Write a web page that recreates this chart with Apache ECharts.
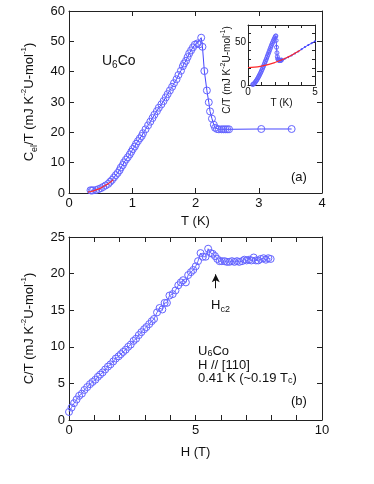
<!DOCTYPE html>
<html>
<head>
<meta charset="utf-8">
<script src="https://cdn.jsdelivr.net/npm/echarts@6/dist/echarts.min.js"></script>
<style>
html,body{margin:0;padding:0;background:#fff;}
#c{width:374px;height:484px;}
</style>
</head>
<body>
<div id="c"></div>
<script>
// ---- Panel (a): electronic specific heat C_el/T vs T ----
const tempA = [0.34,0.36,0.38,0.43,0.47,0.505,0.54,0.58,0.62,0.65,0.68,0.71,0.74,0.77,0.80,0.82,0.85,0.87,0.90,0.93,0.96,0.985,1.01,1.04,1.06,1.09,1.12,1.15,1.17,1.21,1.25,1.285,1.32,1.35,1.39,1.42,1.46,1.495,1.53,1.56,1.595,1.63,1.66,1.70,1.73,1.77,1.80,1.82,1.85,1.875,1.90,1.93,1.96,1.99,2.03,2.06,2.09,2.11,2.14,2.18,2.21,2.23,2.26,2.29,2.31,2.34,2.37,2.41,2.44,2.47,2.50,2.53,3.04,3.52];
const celA = [0.9,0.8,0.9,1.0,1.3,1.6,2.0,2.5,3.0,3.7,4.3,5.1,5.9,6.6,7.5,8.4,9.2,10.1,11.0,11.8,12.7,13.6,14.5,15.3,16.2,17.1,18.0,18.8,19.7,21.0,22.3,23.5,24.7,25.8,27.0,28.1,29.2,30.3,31.5,32.6,33.8,35.0,36.2,37.5,38.9,40.3,41.8,42.7,43.6,44.8,46.0,47.0,48.0,48.9,49.3,49.0,51.2,48.2,40.2,33.8,29.9,26.9,24.5,22.5,21.5,21.1,21.0,21.0,21.0,21.0,21.0,21.0,21.1,21.1];
const fitTA = [0.30,0.35,0.40,0.45,0.50,0.55,0.60,0.65,0.70];
const fitCA = [0.3,0.5,0.8,1.2,1.6,2.2,2.8,3.5,4.4];

// ---- Inset: total C/T vs T ----
const insetT = [0.35,0.40,0.45,0.50,0.55,0.60,0.65,0.70,0.75,0.80,0.85,0.90,0.95,1.00,1.05,1.10,1.15,1.20,1.25,1.30,1.35,1.40,1.45,1.50,1.55,1.60,1.65,1.70,1.75,1.80,1.85,1.90,1.95,2.00,2.05,2.08,2.10,2.13,2.16,2.19,2.22,2.26,2.30,2.34,2.38,2.42,2.46,2.50];
const insetC = [0.5,1.0,1.6,2.4,3.4,4.6,5.8,7.0,8.4,9.8,11.3,12.9,14.5,16.2,18.0,19.8,21.6,23.6,25.6,27.6,29.6,31.7,33.8,35.9,38.0,40.1,42.2,44.2,46.2,48.2,50.1,52.0,53.7,55.3,56.8,57.3,52.0,44.0,37.5,33.0,30.5,29.3,28.8,28.6,28.6,28.7,28.9,29.1];
const insetLineT = [2.50,2.75,3.00,3.25,3.50,3.75,4.00,4.25,4.50,4.75,5.00];
const insetLineC = [29.1,30.6,32.5,34.5,36.8,39.2,41.8,44.3,46.6,48.8,51.0];
const insetFitT = [0.0,0.5,1.0,1.5,2.0,2.5,3.0,3.5,3.9];
const insetFitC = [20.4,20.8,22.0,23.8,26.2,29.2,32.8,37.0,40.6];

// ---- Panel (b): C/T vs H at 0.41 K ----
const fieldB = [0,0.1,0.2,0.3,0.4,0.51,0.61,0.72,0.83,0.93,1.04,1.14,1.23,1.33,1.43,1.54,1.64,1.75,1.85,1.96,2.05,2.14,2.24,2.34,2.44,2.55,2.65,2.76,2.86,2.97,3.06,3.17,3.27,3.36,3.48,3.58,3.69,3.78,3.87,3.97,4.1,4.21,4.32,4.42,4.51,4.62,4.71,4.82,4.91,5.01,5.1,5.2,5.29,5.4,5.5,5.6,5.68,5.77,5.86,5.95,6.04,6.15,6.24,6.34,6.44,6.54,6.64,6.73,6.84,6.93,7.02,7.12,7.21,7.3,7.39,7.48,7.58,7.69,7.78,7.88,7.97];
const ctB = [1.1,1.7,2.3,2.8,3.3,3.6,4.1,4.5,4.9,5.2,5.5,5.9,6.2,6.5,6.9,7.3,7.6,8.0,8.4,8.7,9.0,9.3,9.6,10.0,10.3,10.8,11.1,11.6,12.0,12.4,12.7,13.1,13.5,13.8,14.7,15.3,15.1,16.0,16.0,17.0,17.2,17.7,18.4,18.8,19.1,18.8,19.8,20.2,20.5,21.0,21.7,22.8,22.3,22.3,23.4,22.8,22.7,22.4,22.0,21.7,21.7,21.7,21.6,21.6,21.7,21.6,21.7,21.6,21.7,21.9,21.8,21.9,21.8,22.2,21.8,21.8,22.0,22.1,21.9,22.1,22.0];
const hc2Arrow = [5.8, 18.0, 19.9];

// tick label lists
const ticksA_x = [0,1,2,3,4];
const ticksA_y = [0,10,20,30,40,50,60];
const ticksB_x = [0,5,10];
const ticksB_y = [0,5,10,15,20,25];
const ticksIn_x = [0,5];
const ticksIn_y = [0,50];

const FONT = 'Liberation Sans, Arial, Helvetica, sans-serif';
const BLUE_M = '#6464ff';
const BLUE_L = '#4646ff';
const RED = '#ff2a2a';

const pair = (xs, ys) => xs.map((x, i) => [x, ys[i]]);

function mkAxis(o) {
  const labels = o.labels;
  return {
    type: 'value',
    gridIndex: o.grid,
    min: o.min, max: o.max, interval: o.interval,
    position: o.position,
    axisLine: {show: true, onZero: false, lineStyle: {color: '#222', width: 1}},
    axisTick: {show: true, inside: true, length: o.tickLen || 5, lineStyle: {color: '#222', width: 1}},
    axisLabel: {
      show: !!labels,
      color: '#111',
      fontFamily: FONT,
      fontSize: o.fontSize || 13,
      margin: o.margin || 4,
      formatter: function (v) {
        if (!labels) return '';
        const r = Math.round(v * 1000) / 1000;
        return labels.indexOf(r) >= 0 ? String(r) : '';
      }
    },
    splitLine: {show: false},
    name: o.name || '',
    nameLocation: 'middle',
    nameGap: o.nameGap || 0,
    nameRotate: o.nameRotate,
    nameTextStyle: o.nameTextStyle,
    silent: true
  };
}

const richBig = function (fs) {
  return {
    n: {fontSize: fs, fontFamily: FONT, color: '#111', lineHeight: fs + 6},
    sup: {fontSize: Math.round(fs * 0.65), fontFamily: FONT, color: '#111', lineHeight: Math.round(fs * 0.7), verticalAlign: 'top'},
    sub: {fontSize: Math.round(fs * 0.7), fontFamily: FONT, color: '#111', lineHeight: Math.round(fs * 0.7), verticalAlign: 'bottom'}
  };
};

const xAxes = [
  mkAxis({grid: 0, min: 0, max: 4, interval: 1, position: 'bottom', labels: ticksA_x, name: 'T (K)', nameGap: 22,
    nameTextStyle: {fontFamily: FONT, fontSize: 13, color: '#111'}}),
  mkAxis({grid: 0, min: 0, max: 4, interval: 1, position: 'top'}),
  mkAxis({grid: 1, min: 0, max: 5, interval: 1, position: 'bottom', labels: ticksIn_x, fontSize: 10, margin: 2, tickLen: 3,
    name: 'T (K)', nameGap: 12, nameTextStyle: {fontFamily: FONT, fontSize: 10, color: '#111'}}),
  mkAxis({grid: 1, min: 0, max: 5, interval: 1, position: 'top', tickLen: 3}),
  mkAxis({grid: 2, min: 0, max: 10, interval: 1, position: 'bottom', labels: ticksB_x, name: 'H (T)', nameGap: 26,
    nameTextStyle: {fontFamily: FONT, fontSize: 13, color: '#111'}}),
  mkAxis({grid: 2, min: 0, max: 10, interval: 1, position: 'top'})
];

const yAxes = [
  mkAxis({grid: 0, min: 0, max: 60, interval: 10, position: 'left', labels: ticksA_y, nameGap: 30, nameRotate: 90,
    name: '{n|C}{sub|el}{n|/T (mJ K}{sup|-2}{n|U-mol}{sup|-1}{n|)}',
    nameTextStyle: {rich: richBig(13)}}),
  mkAxis({grid: 0, min: 0, max: 60, interval: 10, position: 'right'}),
  mkAxis({grid: 1, min: 0, max: 70, interval: 10, position: 'left', labels: ticksIn_y, fontSize: 10, margin: 2, tickLen: 3}),
  mkAxis({grid: 1, min: 0, max: 70, interval: 10, position: 'right', tickLen: 3}),
  mkAxis({grid: 2, min: 0, max: 25, interval: 5, position: 'left', labels: ticksB_y, nameGap: 30, nameRotate: 90,
    name: '{n|C/T (mJ K}{sup|-2}{n|U-mol}{sup|-1}{n|)}',
    nameTextStyle: {rich: richBig(13)}}),
  mkAxis({grid: 2, min: 0, max: 25, interval: 5, position: 'right'})
];

const hollow = (size, col) => ({
  symbol: 'circle', symbolSize: size,
  itemStyle: {color: 'rgba(255,255,255,0)', borderColor: col, borderWidth: 1}
});

const option = {
  animation: false,
  backgroundColor: '#ffffff',
  grid: [
    {left: 69, top: 11, width: 253, height: 182},
    {left: 248, top: 25, width: 67, height: 60, backgroundColor: '#fff', show: true, borderWidth: 0},
    {left: 69, top: 237, width: 253, height: 183}
  ],
  xAxis: xAxes,
  yAxis: yAxes,
  series: [
    Object.assign({
      type: 'line', xAxisIndex: 0, yAxisIndex: 0, data: pair(tempA, celA),
      lineStyle: {color: BLUE_L, width: 1}, z: 3
    }, hollow(7, BLUE_M)),
    {
      type: 'line', xAxisIndex: 0, yAxisIndex: 0, data: pair(fitTA, fitCA), smooth: true,
      symbol: 'none', lineStyle: {color: RED, width: 1.2}, z: 4
    },
    {
      type: 'line', xAxisIndex: 2, yAxisIndex: 2, data: pair(insetFitT, insetFitC), smooth: true,
      symbol: 'none', lineStyle: {color: RED, width: 1.2}, z: 4
    },
    Object.assign({
      type: 'line', xAxisIndex: 2, yAxisIndex: 2, data: pair(insetT, insetC),
      lineStyle: {color: BLUE_L, width: 1}, z: 3
    }, hollow(4, BLUE_M)),
    {
      type: 'line', xAxisIndex: 2, yAxisIndex: 2, data: pair(insetLineT, insetLineC),
      symbol: 'circle', symbolSize: 2, itemStyle: {color: BLUE_L},
      lineStyle: {color: BLUE_L, width: 1}, z: 3
    },
    Object.assign({
      type: 'line', xAxisIndex: 4, yAxisIndex: 4, data: pair(fieldB, ctB),
      lineStyle: {color: BLUE_L, width: 0.8}, z: 3,
      markLine: {
        silent: true,
        symbol: ['none', 'arrow'], symbolSize: [6, 8],
        label: {show: false},
        lineStyle: {color: '#111', width: 1, type: 'solid'},
        data: [[{coord: [hc2Arrow[0], hc2Arrow[1]]}, {coord: [hc2Arrow[0], hc2Arrow[2]]}]]
      }
    }, hollow(7, BLUE_M))
  ],
  graphic: [
    {type: 'text', left: 102, top: 54, style: {text: '{n|U}{s|6}{n|Co}', rich: {
      n: {fontSize: 14, fontFamily: FONT, fill: '#111', lineHeight: 18},
      s: {fontSize: 10, fontFamily: FONT, fill: '#111', lineHeight: 10, verticalAlign: 'bottom'}}}},
    {type: 'text', left: 291, top: 171, style: {text: '(a)', fontSize: 13, fontFamily: FONT, fill: '#111'}},
    {type: 'text', x: 227, y: 70, rotation: Math.PI / 2, style: {
      text: '{n|C/T (mJ K}{sup|-2}{n|U-mol}{sup|-1}{n|)}', align: 'center', verticalAlign: 'middle',
      rich: {
        n: {fontSize: 10, fontFamily: FONT, fill: '#111', lineHeight: 14},
        sup: {fontSize: 7, fontFamily: FONT, fill: '#111', lineHeight: 7, verticalAlign: 'top'}
      }}},
    {type: 'text', left: 211, top: 299, style: {text: '{n|H}{s|c2}', rich: {
      n: {fontSize: 13, fontFamily: FONT, fill: '#111', lineHeight: 17},
      s: {fontSize: 9, fontFamily: FONT, fill: '#111', lineHeight: 9, verticalAlign: 'bottom'}}}},
    {type: 'text', left: 198, top: 345, style: {
      text: '{n|U}{s|6}{n|Co}\n{n|H // [110]}\n{n|0.41 K (~0.19 T}{s|c}{n|)}', rich: {
      n: {fontSize: 13, fontFamily: FONT, fill: '#111', lineHeight: 13.5},
      s: {fontSize: 9, fontFamily: FONT, fill: '#111', lineHeight: 9, verticalAlign: 'bottom'}}}},
    {type: 'text', left: 291, top: 395, style: {text: '(b)', fontSize: 13, fontFamily: FONT, fill: '#111'}}
  ]
};

const chart = echarts.init(document.getElementById('c'), null, {renderer: 'canvas'});
chart.setOption(option);
</script>
</body>
</html>
